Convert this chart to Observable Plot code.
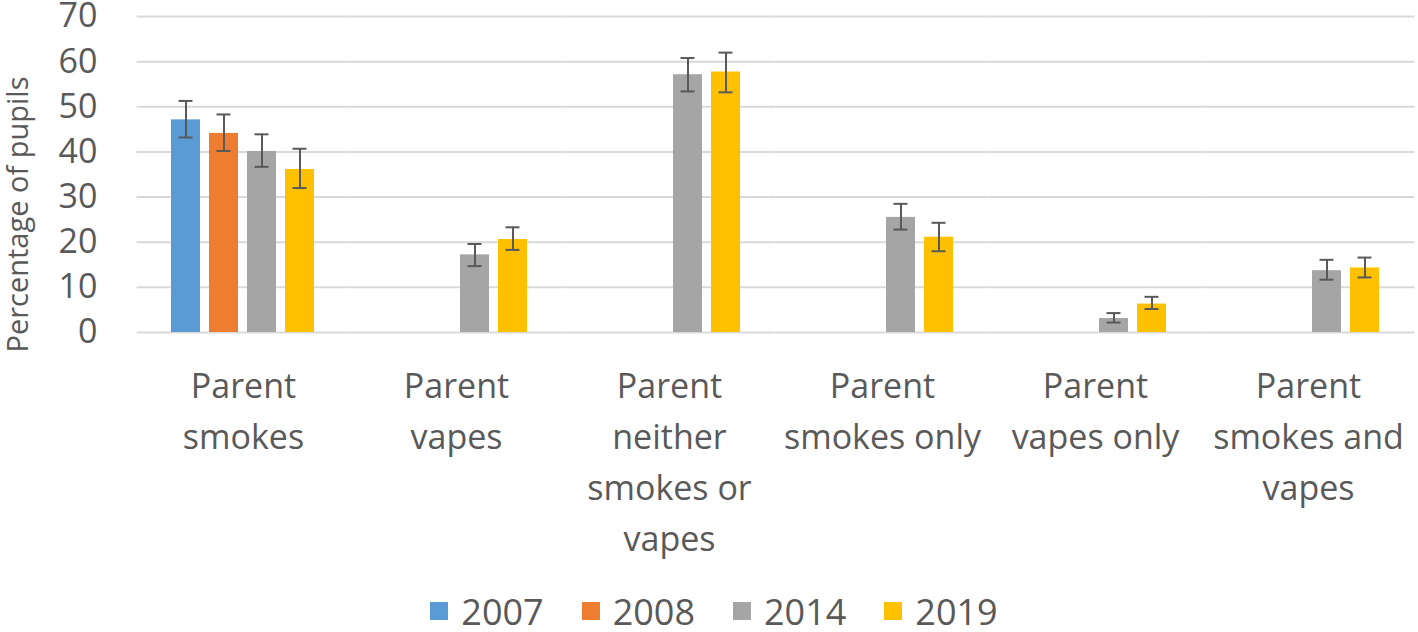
<!DOCTYPE html>
<html>
<head>
<meta charset="utf-8">
<script src="https://cdn.jsdelivr.net/npm/d3@7"></script>
<script src="https://cdn.jsdelivr.net/npm/@observablehq/plot@0.6"></script>
<style>
  html, body { margin: 0; padding: 0; background: #fff; }
  body { width: 1418px; height: 632px; overflow: hidden; font-family: "Open Sans", sans-serif; }
  #chart svg { display: block; }
  #legend { display: flex; justify-content: center; align-items: flex-end; height: 46px; color: #595959; font-size: 36px; line-height: 1.15; padding-left: 10px; }
  .item { display: flex; align-items: center; margin: 0 19px; }
  .sw { width: 18px; height: 18px; margin-right: 13px; }
</style>
</head>
<body>
<div id="chart"></div>
<div id="legend"></div>
<script>
const categories = ["Parent smokes", "Parent vapes", "Parent neither smokes or vapes", "Parent smokes only", "Parent vapes only", "Parent smokes and vapes"];
const categoryLabels = ["Parent\nsmokes", "Parent\nvapes", "Parent\nneither\nsmokes or\nvapes", "Parent\nsmokes only", "Parent\nvapes only", "Parent\nsmokes and\nvapes"];
const years = ["2007", "2008", "2014", "2019"];
const yearColors = ["#5b9bd5", "#ed7d31", "#a5a5a5", "#ffc000"];

const values2007 = [47.1, null, null, null, null, null];
const values2008 = [44.1, null, null, null, null, null];
const values2014 = [40.1, 17.2, 57.1, 25.5, 3.1, 13.7];
const values2019 = [36.1, 20.6, 57.7, 21.1, 6.3, 14.3];

const low2007 = [43.2, null, null, null, null, null];
const high2007 = [51.3, null, null, null, null, null];
const low2008 = [40.2, null, null, null, null, null];
const high2008 = [48.3, null, null, null, null, null];
const low2014 = [36.7, 14.7, 53.4, 22.8, 2.2, 11.7];
const high2014 = [43.9, 19.6, 60.8, 28.5, 4.3, 16.1];
const low2019 = [32.0, 18.3, 53.2, 18.0, 5.2, 12.2];
const high2019 = [40.7, 23.3, 62.0, 24.3, 7.9, 16.6];

const yTicks = [0, 10, 20, 30, 40, 50, 60, 70];
const yTitle = "Percentage of pupils";

const series = [
  [values2007, low2007, high2007],
  [values2008, low2008, high2008],
  [values2014, low2014, high2014],
  [values2019, low2019, high2019]
];
const rows = [];
categories.forEach((cat, i) => {
  years.forEach((yr, j) => {
    const [v, lo, hi] = series[j];
    if (v[i] != null) rows.push({category: cat, year: yr, value: v[i], low: lo[i], high: hi[i]});
  });
});
const labelOf = new Map(categories.map((c, i) => [c, categoryLabels[i]]));

const textColor = "#595959";
const chart = Plot.plot({
  width: 1418,
  height: 586,
  marginTop: 16,
  marginBottom: 254,
  marginLeft: 135,
  marginRight: 2,
  style: {fontFamily: "Open Sans, sans-serif", color: textColor, background: "white"},
  fx: {domain: categories, paddingInner: 0.275, paddingOuter: 0.1375, label: null},
  x: {domain: years, paddingInner: 0.225, paddingOuter: 0.1125, axis: null},
  y: {domain: [0, 70], ticks: yTicks, label: null},
  color: {domain: years, range: yearColors},
  marks: [
    Plot.ruleY(yTicks, {y: d => d, stroke: "#d9d9d9", strokeWidth: 2, insetLeft: -29.4, insetRight: -29.4}),
    Plot.barY(rows, {fx: "category", x: "year", y: "value", fill: "year"}),
    Plot.ruleX(rows, {fx: "category", x: "year", y1: "low", y2: "high", stroke: "#595959", strokeWidth: 2}),
    Plot.tickY(rows, {fx: "category", x: "year", y: "low", stroke: "#595959", strokeWidth: 2, insetLeft: 7.5, insetRight: 7.5}),
    Plot.tickY(rows, {fx: "category", x: "year", y: "high", stroke: "#595959", strokeWidth: 2, insetLeft: 7.5, insetRight: 7.5}),
    Plot.axisY({ticks: yTicks, tickSize: 0, tickPadding: 69, fontSize: 34, fill: textColor, label: null}),
    Plot.axisFx({anchor: "bottom", tickSize: 0, tickPadding: 29, fontSize: 34, lineHeight: 1.5, fill: textColor, tickFormat: d => labelOf.get(d), label: null}),
    Plot.text([{category: categories[0], t: yTitle}], {fx: "category", text: "t", frameAnchor: "left", textAnchor: "middle", lineAnchor: "middle", rotate: -90, dx: -148, dy: 40, fontSize: 29, fill: textColor})
  ]
});
document.getElementById("chart").appendChild(chart);

const legend = document.getElementById("legend");
years.forEach((yr, i) => {
  const item = document.createElement("div");
  item.className = "item";
  const sw = document.createElement("div");
  sw.className = "sw";
  sw.style.background = yearColors[i];
  const label = document.createElement("span");
  label.textContent = yr;
  item.appendChild(sw);
  item.appendChild(label);
  legend.appendChild(item);
});
</script>
</body>
</html>
